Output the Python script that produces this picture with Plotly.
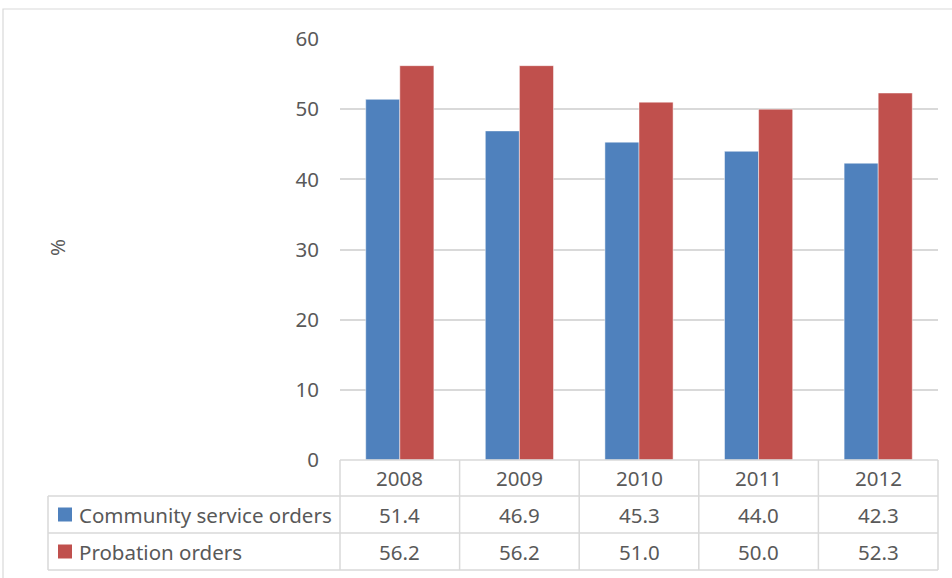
import plotly.graph_objects as go

years = ["2008", "2009", "2010", "2011", "2012"]
series_names = ["Community service orders", "Probation orders"]
community = [51.4, 46.9, 45.3, 44.0, 42.3]
probation = [56.2, 56.2, 51.0, 50.0, 52.3]
y_ticks = [0, 10, 20, 30, 40, 50, 60]

W, H = 952, 578
BLUE = "#4F81BD"
RED = "#C0504D"
GRID = "#D9D9D9"
TXT = "#595959"
FONT = "Noto Sans"
FS = 20.5

def px(x):
    return x / W

def py(y):
    return 1 - y / H

X0, X1 = 340, 938
Y_TOP, Y_ZERO = 39, 460
ROW = [460, 496, 533, 570]
TABLE_L = 48

fig = go.Figure()
fig.add_trace(go.Bar(x=years, y=community, name=series_names[0], marker_color=BLUE,
                     marker_line=dict(color="rgba(255,255,255,0.6)", width=0.8)))
fig.add_trace(go.Bar(x=years, y=probation, name=series_names[1], marker_color=RED,
                     marker_line=dict(color="rgba(255,255,255,0.6)", width=0.8)))

shapes = []
annotations = []
# outer chart border
shapes.append(dict(type="rect", xref="paper", yref="paper", x0=px(3), x1=px(965), y0=py(9), y1=py(600),
                   line=dict(color="#D9D9D9", width=1.2), fillcolor="rgba(0,0,0,0)", layer="below"))
# table horizontal lines
shapes.append(dict(type="line", xref="paper", yref="paper", x0=px(X0), x1=px(X1), y0=py(ROW[0]), y1=py(ROW[0]),
                   line=dict(color=GRID, width=1.5)))
for r in ROW[1:]:
    shapes.append(dict(type="line", xref="paper", yref="paper", x0=px(TABLE_L), x1=px(X1), y0=py(r), y1=py(r),
                       line=dict(color=GRID, width=1.5)))
# table vertical lines
shapes.append(dict(type="line", xref="paper", yref="paper", x0=px(TABLE_L), x1=px(TABLE_L), y0=py(ROW[1]), y1=py(ROW[3]),
                   line=dict(color=GRID, width=1.5)))
ncat = len(years)
cw = (X1 - X0) / ncat
for i in range(ncat + 1):
    xx = X0 + i * cw
    shapes.append(dict(type="line", xref="paper", yref="paper", x0=px(xx), x1=px(xx), y0=py(ROW[0]), y1=py(ROW[3]),
                       line=dict(color=GRID, width=1.5)))

# header years
for i, yr in enumerate(years):
    cx = X0 + (i + 0.5) * cw
    annotations.append(dict(xref="paper", yref="paper", x=px(cx), y=py((ROW[0] + ROW[1]) / 2), text=yr,
                            showarrow=False, font=dict(family=FONT, size=FS, color=TXT),
                            xanchor="center", yanchor="middle"))
# data rows
for ri, (vals, name, col) in enumerate([(community, series_names[0], BLUE), (probation, series_names[1], RED)]):
    yc = (ROW[ri + 1] + ROW[ri + 2]) / 2
    shapes.append(dict(type="rect", xref="paper", yref="paper", x0=px(58), x1=px(72), y0=py(yc - 7), y1=py(yc + 7),
                       line=dict(width=0), fillcolor=col))
    annotations.append(dict(xref="paper", yref="paper", x=px(77), y=py(yc), text=name, showarrow=False,
                            font=dict(family=FONT, size=FS, color=TXT), xanchor="left", yanchor="middle"))
    for i, v in enumerate(vals):
        cx = X0 + (i + 0.5) * cw
        annotations.append(dict(xref="paper", yref="paper", x=px(cx), y=py(yc), text=f"{v:.1f}",
                                showarrow=False, font=dict(family=FONT, size=FS, color=TXT),
                                xanchor="center", yanchor="middle"))

# y axis title
annotations.append(dict(xref="paper", yref="paper", x=px(57), y=py(248), text="%", textangle=-90,
                        showarrow=False, font=dict(family=FONT, size=FS, color=TXT),
                        xanchor="center", yanchor="middle"))

fig.update_layout(
    width=W, height=H,
    margin=dict(l=0, r=0, t=0, b=0, autoexpand=False),
    paper_bgcolor="white", plot_bgcolor="white",
    showlegend=False,
    barmode="group", bargap=0.43, bargroupgap=0,
    xaxis=dict(domain=[px(X0), px(X1)], showticklabels=False, showgrid=False, zeroline=False,
               showline=False, ticks="", automargin=False),
    yaxis=dict(domain=[py(Y_ZERO), py(Y_TOP)], range=[0, 60], tickvals=y_ticks,
               showgrid=True, gridcolor=GRID, gridwidth=1.5, zeroline=False, showline=False,
               ticks="", ticklabelstandoff=20, automargin=False,
               tickfont=dict(family=FONT, size=FS, color=TXT)),
    shapes=shapes, annotations=annotations,
    font=dict(family=FONT, color=TXT),
)

fig.write_html("out.html")
